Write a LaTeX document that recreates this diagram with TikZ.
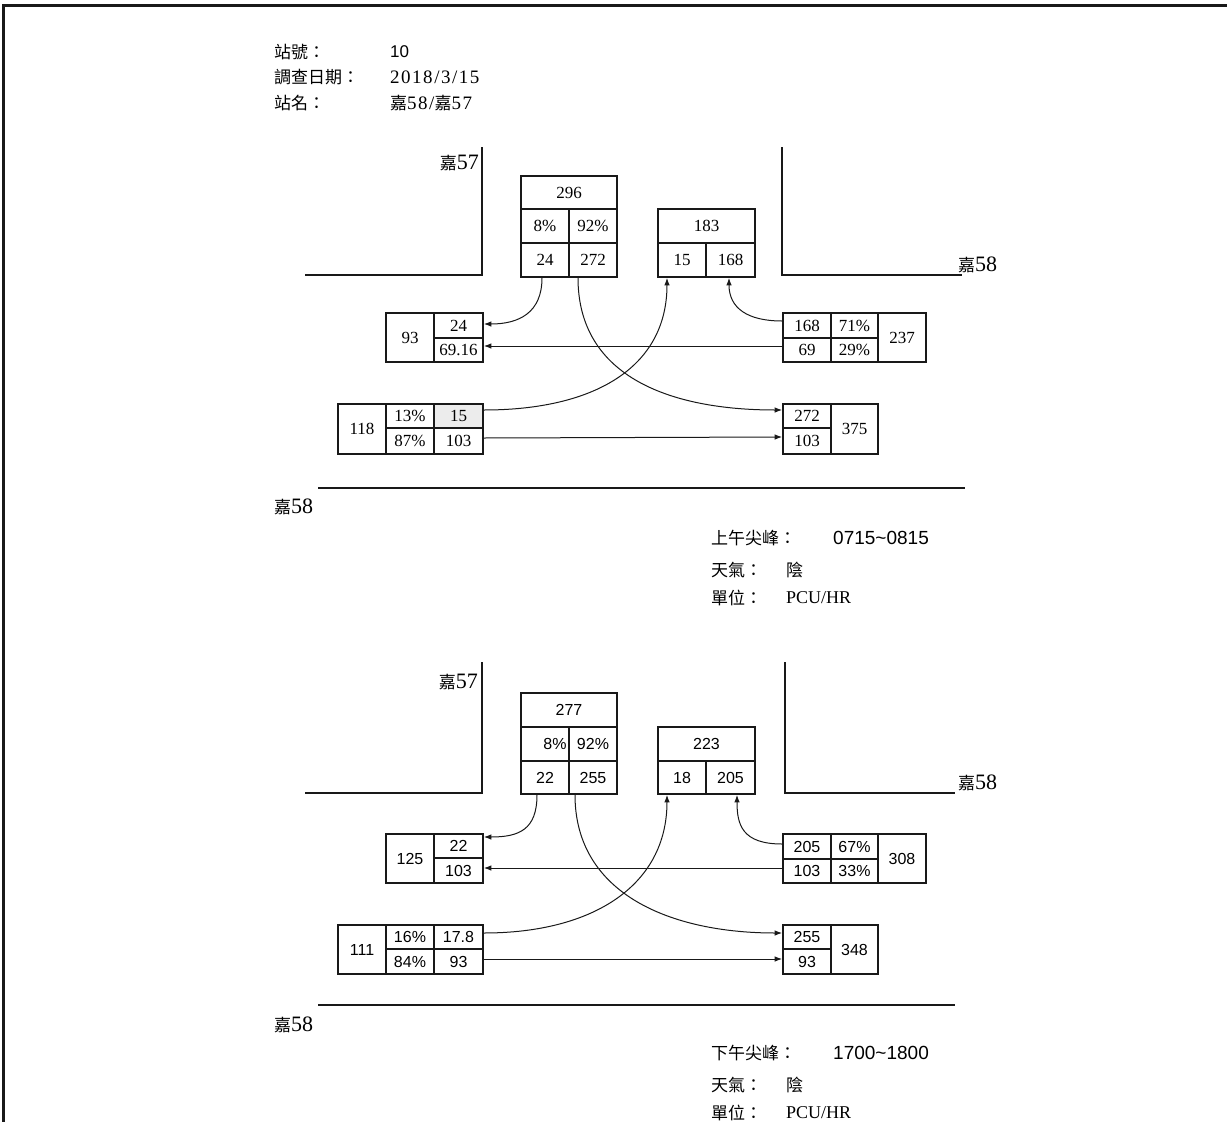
\documentclass[tikz,border=0pt]{standalone}
\usepackage{fontspec}
\setmainfont{Liberation Serif}
\newfontfamily\cjkfont{Noto Sans CJK TC}
\newfontfamily\arialfont{Liberation Sans}
\newfontfamily\widefont[LetterSpace=8]{Liberation Serif}
\usetikzlibrary{arrows.meta}
\definecolor{ink}{RGB}{25,25,25}
\definecolor{shade}{RGB}{236,236,236}
\newcommand\jia{{\cjkfont\fontsize{17}{17}\selectfont 嘉}}

\begin{document}
\begin{tikzpicture}[x=1pt,y=-1pt,
    cell/.style={draw=ink,line width=1.7pt,inner sep=0pt},
    amfont/.style={font=\fontsize{17}{17}\selectfont},
    pmfont/.style={font=\arialfont\fontsize{16}{16}\selectfont},
    road/.style={draw=ink,line width=1.4pt},
    conn/.style={draw=ink,line width=1pt,-{Latex[length=7.5pt,width=5.5pt]}},
    txt/.style={anchor=west,inner sep=0pt,font=\cjkfont\fontsize{17}{17}\selectfont},
    val/.style={anchor=west,inner sep=0pt,font=\widefont\fontsize{19}{19}\selectfont},
    sval/.style={anchor=west,inner sep=0pt,font=\arialfont\fontsize{19}{19}\selectfont},
    lbl/.style={inner sep=0pt,font=\fontsize{22}{22}\selectfont}]
  \useasboundingbox (0,0) rectangle (1227,1122);
  \draw[ink,line width=2.5pt] (3.5,1122) -- (3.5,5.5) -- (1227,5.5);

  % header
  \node[txt] (hNo) at (274,52) {站號：};
  \node[sval,font=\arialfont\fontsize{17}{17}\selectfont] (hNoV) at (390,52) {10};
  \node[txt] (hDate) at (274,77) {調查日期：};
  \node[val] (hDateV) at (390,77) {2018/3/15};
  \node[txt] (hName) at (274,103) {站名：};
  \node[val] (hNameV) at (390,103) {\jia58/\jia57};

  % morning peak
  \draw[road] (305,275) -- (482,275) -- (482,147);
  \draw[road] (782,147) -- (782,275) -- (962,275);
  \draw[road] (318,488) -- (965,488);
  \node[lbl,anchor=east] (amRdNW) at (479,163) {\jia57};
  \node[lbl,anchor=west] (amRdNE) at (958,265) {\jia58};
  \node[lbl,anchor=west] (amRdS) at (274,507) {\jia58};

  \foreach \n/\x/\y/\w/\h/\f/\t in {
      amNt/569/192.5/96/33/white/296, amNl/545/226/48/34/white/8\%, amNr/593/226/48/34/white/92\%,
      amNa/545/260/48/34/white/24, amNb/593/260/48/34/white/272,
      amSt/706.5/226/97/34/white/183, amSa/682/260/48/34/white/15, amSb/730.5/260/49/34/white/168,
      amWx/410/337.5/48/49/white/93, amWa/458.5/325.5/49/25/white/24, amWb/458.5/350/49/24/white/69.16,
      amAt/362/429/48/50/white/118, amAp/410/416/48/24/white/13\%, amAq/410/441/48/26/white/87\%,
      amAa/458.5/416/49/24/shade/15, amAb/458.5/441/49/26/white/103,
      amEa/807/325.5/48/25/white/168, amEb/807/350/48/24/white/69, amEp/854.5/325.5/47/25/white/71\%,
      amEq/854.5/350/47/24/white/29\%, amEt/902/337.5/48/49/white/237,
      amXa/807/416/48/24/white/272, amXb/807/441/48/26/white/103, amXt/854.5/429/47/50/white/375}
    \node[cell,amfont,fill=\f,minimum width=\w pt,minimum height=\h pt] (\n) at (\x,\y) {\t};

  \draw[conn] ([xshift=-3pt]amNa.south) .. controls +(0,35) and +(35,0) .. ([yshift=1.5pt]amWa.east);
  \draw[conn] ([xshift=-15pt]amNb.south) .. controls +(0,100) and +(-110,0) .. ([yshift=6pt]amXa.west);
  \draw[conn] ([yshift=6pt]amAa.east) .. controls +(110,0) and +(0,90) .. ([xshift=-15pt]amSa.south);
  \draw[conn] ([yshift=4.5pt]amEa.west) .. controls +(-35,0) and +(0,30) .. ([xshift=-1.5pt]amSb.south);
  \draw[conn] ([yshift=4pt]amEb.west) -- ([yshift=4pt]amWb.east);
  \draw[conn] ([yshift=3pt]amAb.east) -- ([yshift=4pt]amXb.west);

  \node[txt] (amPeak) at (711,538) {上午尖峰：};
  \node[sval] (amPeakV) at (833,538) {0715\textasciitilde0815};
  \node[txt] (amWx) at (711,570) {天氣：};
  \node[txt] (amWxV) at (786,570) {陰};
  \node[txt] (amUnit) at (711,598) {單位：};
  \node[anchor=west,inner sep=0pt,font=\fontsize{18}{18}\selectfont] (amUnitV) at (786,598) {PCU/HR};

  % afternoon peak
  \draw[road] (305,793) -- (482,793) -- (482,662);
  \draw[road] (785,662) -- (785,793) -- (955,793);
  \draw[road] (318,1005) -- (955,1005);
  \node[lbl,anchor=east] (pmRdNW) at (478,682) {\jia57};
  \node[lbl,anchor=west] (pmRdNE) at (958,783) {\jia58};
  \node[lbl,anchor=west] (pmRdS) at (274,1025) {\jia58};

  \foreach \n/\x/\y/\w/\h/\t in {
      pmNt/569/710/96/34/277, pmNl/545/744/48/34/\makebox[43pt][r]{8\%}, pmNr/593/744/48/34/92\%,
      pmNa/545/777.5/48/33/22, pmNb/593/777.5/48/33/255,
      pmSt/706.5/744/97/34/223, pmSa/682/777.5/48/33/18, pmSb/730.5/777.5/49/33/205,
      pmWx/410/858.5/48/49/125, pmWa/458.5/846/49/24/22, pmWb/458.5/870.5/49/25/103,
      pmAt/362/949.5/48/49/111, pmAp/410/937/48/24/16\%, pmAq/410/961.5/48/25/84\%,
      pmAa/458.5/937/49/24/17.8, pmAb/458.5/961.5/49/25/93,
      pmEa/807/846.5/48/25/205, pmEb/807/871/48/24/103, pmEp/854.5/846.5/47/25/67\%,
      pmEq/854.5/871/47/24/33\%, pmEt/902/858.5/48/49/308,
      pmXa/807/937/48/24/255, pmXb/807/961.5/48/25/93, pmXt/854.5/949.5/47/49/348}
    \node[cell,pmfont,fill=white,minimum width=\w pt,minimum height=\h pt] (\n) at (\x,\y) {\t};

  \draw[conn] ([xshift=-8pt]pmNa.south) .. controls +(0,35) and +(35,0) .. ([yshift=9pt]pmWa.east);
  \draw[conn] ([xshift=-18pt]pmNb.south) .. controls +(0,100) and +(-110,0) .. ([yshift=4pt]pmXa.west);
  \draw[conn] ([yshift=4pt]pmAa.east) .. controls +(110,0) and +(0,90) .. ([xshift=-15pt]pmSa.south);
  \draw[conn] ([yshift=2.5pt]pmEa.west) .. controls +(-40,0) and +(0,30) .. ([xshift=6.5pt]pmSb.south);
  \draw[conn] ([yshift=3pt]pmEb.west) -- ([yshift=2.5pt]pmWb.east);
  \draw[conn] ([yshift=2.5pt]pmAb.east) -- ([yshift=2.5pt]pmXb.west);

  \node[txt] (pmPeak) at (711,1053) {下午尖峰：};
  \node[sval] (pmPeakV) at (833,1053) {1700\textasciitilde1800};
  \node[txt] (pmWx) at (711,1085) {天氣：};
  \node[txt] (pmWxV) at (786,1085) {陰};
  \node[txt] (pmUnit) at (711,1113) {單位：};
  \node[anchor=west,inner sep=0pt,font=\fontsize{18}{18}\selectfont] (pmUnitV) at (786,1113) {PCU/HR};
\end{tikzpicture}
\end{document}
